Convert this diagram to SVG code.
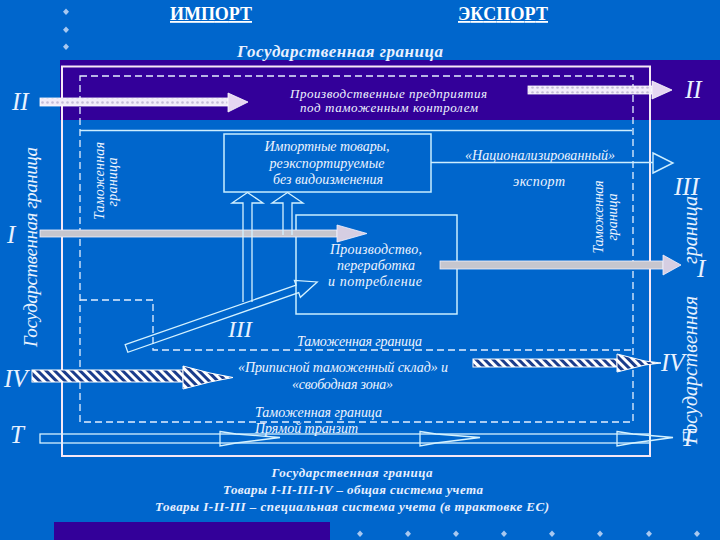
<svg xmlns="http://www.w3.org/2000/svg" width="720" height="540" viewBox="0 0 720 540">
<style>
.t{font-family:"Liberation Serif","DejaVu Serif",serif;font-style:italic;fill:#eef4ff;font-size:14px}
.rn{font-family:"Liberation Serif","DejaVu Serif",serif;font-style:italic;fill:#e8f2ff;font-size:25px}
.vt{font-family:"Liberation Serif","DejaVu Serif",serif;font-style:italic;fill:#e8f2ff;font-size:19px}
.hd{font-family:"Liberation Serif","DejaVu Serif",serif;font-weight:bold;fill:#ffffff;font-size:18px;text-decoration:underline}
.bt{font-family:"Liberation Serif","DejaVu Serif",serif;font-weight:bold;font-style:italic;fill:#e8f0ff;font-size:13px}
.ln{fill:none;stroke:#cdeeff;stroke-width:1.4}
.dash{fill:none;stroke:#e4f0ff;stroke-width:1.3;stroke-dasharray:7 4}
.box{fill:none;stroke:#c8eeff;stroke-width:1.5}
.out{fill:none;stroke:#d4f2ff;stroke-width:1.3}
.dot{fill:#a8c8f0}
.gray{fill:#c6c6ce;stroke:#f2f2ff;stroke-width:0.8}
.grayh{fill:#d6cee2;stroke:#f2f2ff;stroke-width:0.8}
.dotted{fill:url(#dots);stroke:#ffffff;stroke-width:0.8}
.hatched{fill:url(#hatch);stroke:#ffffff;stroke-width:1}
</style>
<defs>
<pattern id="dots" width="5" height="5" patternUnits="userSpaceOnUse"><rect width="5" height="5" fill="#f2ecfa"/><circle cx="2.5" cy="2.5" r="1.3" fill="#c4bcd8"/></pattern>
<pattern id="hatch" width="6" height="6" patternUnits="userSpaceOnUse" patternTransform="rotate(-45)"><rect width="6" height="6" fill="#1a3c8c"/><rect width="3" height="6" fill="#ffffff"/></pattern>
</defs>

<rect x="0" y="0" width="720" height="540" fill="#0066CC"/>
<rect x="60" y="60" width="660" height="60" fill="#330099"/>
<rect x="54" y="522" width="276" height="18" fill="#330099"/>

<g id="bullets" class="dot">
<path d="M66 8.5l3 3.2-3 3.2-3-3.2z"/>
<path d="M66 26.5l3 3.2-3 3.2-3-3.2z"/>
<path d="M66 43.5l3 3.2-3 3.2-3-3.2z"/>
<path d="M360 530.5l3 3.2-3 3.2-3-3.2z"/>
<path d="M408 530.5l3 3.2-3 3.2-3-3.2z"/>
<path d="M456 530.5l3 3.2-3 3.2-3-3.2z"/>
<path d="M504 530.5l3 3.2-3 3.2-3-3.2z"/>
<path d="M552 530.5l3 3.2-3 3.2-3-3.2z"/>
<path d="M600 530.5l3 3.2-3 3.2-3-3.2z"/>
<path d="M649 530.5l3 3.2-3 3.2-3-3.2z"/>
<path d="M697 530.5l3 3.2-3 3.2-3-3.2z"/>
</g>

<g id="headings">
<text class="hd" x="170" y="20" textLength="82">ИМПОРТ</text>
<text class="hd" x="458" y="20" textLength="90">ЭКСПОРТ</text>
<text class="bt" x="340" y="57" text-anchor="middle" textLength="206" style="font-size:17px">Государственная граница</text>
</g>

<g id="boundaries">
<rect x="62" y="66.5" width="588" height="389.5" fill="none" stroke="#f6e8f6" stroke-width="2"/>
<rect x="80" y="76" width="553" height="346" class="dash"/>
<path d="M80 300H153V350H633" class="dash"/>
<path d="M80 130.5H632" class="ln"/>
</g>

<g id="state-border-left">
<text class="vt" transform="translate(37,247) rotate(-90)" text-anchor="middle" textLength="200">Государственная граница</text>
</g>
<g id="state-border-right">
<text class="vt" transform="translate(697,230) rotate(-90)" text-anchor="middle" style="font-size:20px">граница</text>
<text class="vt" transform="translate(697,370) rotate(-90)" text-anchor="middle" textLength="148" style="font-size:20px">Государственная</text>
</g>
<g id="customs-border-left">
<text class="t" transform="translate(104,181) rotate(-90)" text-anchor="middle" textLength="78">Таможенная</text>
<text class="t" transform="translate(117,182) rotate(-90)" text-anchor="middle" textLength="49">граница</text>
</g>
<g id="customs-border-right">
<text class="t" transform="translate(603,217) rotate(-90)" text-anchor="middle" textLength="73">Таможенная</text>
<text class="t" transform="translate(617,217) rotate(-90)" text-anchor="middle" textLength="47">граница</text>
</g>

<g id="enterprises">
<text class="t" x="290" y="98" textLength="197" style="font-size:13px">Производственные предприятия</text>
<text class="t" x="300" y="112" textLength="178" style="font-size:13px">под таможенным контролем</text>
</g>

<g id="import-box">
<rect x="224" y="134" width="207" height="58" class="box"/>
<text class="t" x="327" y="151" text-anchor="middle" textLength="125">Импортные товары,</text>
<text class="t" x="327" y="168" text-anchor="middle" textLength="115">реэкспортируемые</text>
<text class="t" x="328" y="184" text-anchor="middle" textLength="110">без видоизменения</text>
</g>

<g id="production-box">
<rect x="296" y="215" width="161" height="99" class="box"/>
<text class="t" x="376" y="254" text-anchor="middle" textLength="92">Производство,</text>
<text class="t" x="376" y="270" text-anchor="middle" textLength="78">переработка</text>
<text class="t" x="375" y="286" text-anchor="middle" textLength="94">и потребление</text>
</g>

<g id="national-export">
<text class="t" x="465" y="160" textLength="150">«Национализированный»</text>
<text class="t" x="513" y="186" textLength="52">экспорт</text>
</g>

<g id="customs-border-mid">
<text class="t" x="297" y="346" textLength="125">Таможенная граница</text>
</g>

<g id="warehouse">
<text class="t" x="238" y="372" textLength="210">«Приписной таможенный склад» и</text>
<text class="t" x="292" y="389" textLength="101">«свободная зона»</text>
</g>

<g id="transit-labels">
<text class="t" x="255" y="417" textLength="127">Таможенная граница</text>
<text class="t" x="255" y="433" textLength="103">Прямой транзит</text>
</g>

<g id="connectors">
<rect x="40" y="98" width="188" height="8" class="dotted"/>
<polygon points="228,93 248,102 228,112" fill="#e6d6f2" stroke="#ffffff" stroke-width="0.8"/>
<rect x="528" y="86" width="124" height="8" class="dotted"/>
<polygon points="652,81 672,90 652,99" fill="#e6d6f2" stroke="#ffffff" stroke-width="0.8"/>
<rect x="40" y="230" width="297" height="7" class="gray"/>
<polygon points="337,225 367,233.5 337,242" class="grayh"/>
<rect x="440" y="261" width="223" height="8" class="gray"/>
<polygon points="663,255 681,265 663,275" class="grayh"/>
<path d="M431 162.5H653" class="ln"/>
<polygon points="653,153 673,163 653,173" class="ln"/>
<polygon transform="translate(126.5,348.5) rotate(-19.24)" points="0,-4 181,-4 181,-9 202,0 181,9 181,4 0,4" class="out"/>
<path d="M243 302V203H232L247.5 192.5L263 203H252V302" class="out"/>
<path d="M283 235V203H272L287.5 192.5L303 203H292V235" class="out"/>
<rect x="32" y="370" width="151" height="12" class="hatched"/>
<polygon points="183,366 210,373 233,377.5 210,382 183,389" class="hatched"/>
<rect x="473" y="359" width="144" height="8" class="hatched"/>
<polygon points="617,354 645,361 661,363 645,365 617,372" class="hatched"/>
<rect x="40" y="434" width="610" height="9" class="out"/>
<polygon points="220,431.5 236,434 280,437.5 236,443 220,446" class="out"/>
<polygon points="420,431.5 436,434 480,437.5 436,443 420,446" class="out"/>
<polygon points="617,431.5 633,434 673,437.5 633,443 617,446" class="out"/>
</g>

<g id="route-labels">
<text class="rn" x="12" y="110">II</text>
<text class="rn" x="685" y="98">II</text>
<text class="rn" x="674" y="195">III</text>
<text class="rn" x="697" y="277">I</text>
<text class="rn" x="7" y="243">I</text>
<text class="rn" x="228" y="337" style="font-size:24px">III</text>
<text class="rn" x="4" y="387">IV</text>
<text class="rn" x="661" y="371">IV</text>
<text class="rn" x="10" y="443">T</text>
<text class="rn" x="681" y="446">T</text>
</g>

<g id="legend">
<text class="bt" x="352" y="477" text-anchor="middle" textLength="161">Государственная граница</text>
<text class="bt" x="353" y="494" text-anchor="middle" textLength="260">Товары I-II-III-IV – общая система учета</text>
<text class="bt" x="352" y="511" text-anchor="middle" textLength="394">Товары I-II-III – специальная система учета (в трактовке ЕС)</text>
</g>
</svg>
